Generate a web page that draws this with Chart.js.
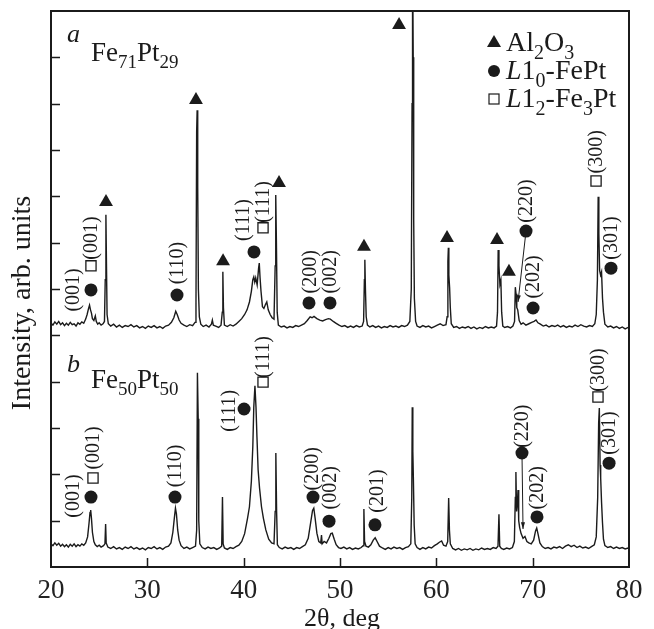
<!DOCTYPE html>
<html>
<head>
<meta charset="utf-8">
<script src="https://cdn.jsdelivr.net/npm/chart.js@4.4.0/dist/chart.umd.min.js"></script>
<style>
html, body { margin: 0; padding: 0; background: #fff; }
canvas { display: block; }
</style>
</head>
<body>
<canvas id="xrdChart" width="654" height="629"></canvas>
<script>
// ===================================
// XRD patterns, Fe71Pt29 (a) and Fe50Pt50 (b)
// ===================================

// 2theta (deg), intensity (arb. units) - pattern a, shifted up
const traceA = [
    [20.0,5.27],[20.2,5.22],[20.4,5.29],[20.6,5.24],[20.8,5.30],[21.0,5.23],[21.2,5.27],[21.4,5.21],[21.6,5.26],[21.8,5.22],
    [22.0,5.28],[22.2,5.23],[22.4,5.25],[22.6,5.20],[22.8,5.27],[23.0,5.24],[23.2,5.29],[23.4,5.26],[23.6,5.35],[23.75,5.45],
    [23.9,5.58],[24.0,5.65],[24.1,5.55],[24.2,5.48],[24.3,5.36],[24.45,5.32],[24.6,5.42],[24.7,5.30],[24.85,5.24],[25.0,5.27],
    [25.2,5.22],[25.4,5.25],[25.55,5.30],[25.63,6.2],[25.7,7.6],[25.76,6.5],[25.82,5.45],[25.95,5.25],[26.2,5.20],[26.5,5.24],
    [26.8,5.18],[27.1,5.22],[27.4,5.17],[27.7,5.21],[28.0,5.19],[28.3,5.23],[28.6,5.18],[28.9,5.21],[29.2,5.16],[29.5,5.19],
    [29.8,5.15],[30.1,5.20],[30.4,5.17],[30.7,5.21],[31.0,5.16],[31.3,5.19],[31.6,5.15],[31.9,5.20],[32.2,5.22],[32.5,5.28],
    [32.75,5.38],[32.95,5.52],[33.1,5.45],[33.3,5.33],[33.5,5.26],[33.8,5.22],[34.1,5.19],[34.4,5.23],[34.7,5.21],[34.95,5.28],
    [35.05,5.7],[35.12,9.4],[35.17,9.86],[35.23,8.2],[35.3,6.0],[35.4,5.4],[35.55,5.24],[35.8,5.19],[36.1,5.22],[36.4,5.18],
    [36.65,5.24],[36.75,5.33],[36.85,5.22],[37.1,5.20],[37.4,5.17],[37.65,5.22],[37.78,5.5],[37.84,6.37],[37.9,5.6],[38.0,5.22],
    [38.3,5.19],[38.6,5.23],[38.9,5.20],[39.2,5.24],[39.5,5.30],[39.8,5.36],[40.1,5.45],[40.35,5.55],[40.6,5.72],[40.8,5.95],
    [40.95,6.20],[41.05,6.26],[41.15,6.15],[41.25,6.24],[41.4,6.09],[41.55,6.45],[41.62,6.56],[41.7,6.25],[41.8,5.95],[41.95,5.62],
    [42.1,5.58],[42.25,5.66],[42.4,5.72],[42.55,5.55],[42.75,5.45],[42.95,5.38],[43.15,5.35],[43.27,6.5],[43.33,8.03],[43.4,7.0],
    [43.48,5.5],[43.6,5.22],[43.9,5.18],[44.2,5.20],[44.5,5.16],[44.8,5.19],[45.1,5.17],[45.4,5.21],[45.7,5.19],[46.0,5.22],
    [46.3,5.25],[46.6,5.32],[46.9,5.40],[47.1,5.38],[47.3,5.41],[47.6,5.36],[47.9,5.33],[48.2,5.31],[48.5,5.34],[48.8,5.36],
    [49.0,5.35],[49.3,5.30],[49.6,5.26],[49.9,5.22],[50.2,5.19],[50.5,5.21],[50.8,5.17],[51.1,5.20],[51.4,5.17],[51.7,5.21],
    [52.0,5.18],[52.3,5.20],[52.45,5.3],[52.53,6.2],[52.58,6.63],[52.64,6.0],[52.72,5.4],[52.85,5.22],[53.1,5.18],[53.4,5.21],
    [53.7,5.17],[54.0,5.20],[54.3,5.16],[54.6,5.19],[54.9,5.17],[55.2,5.21],[55.5,5.18],[55.8,5.20],[56.1,5.17],[56.4,5.21],
    [56.7,5.19],[57.0,5.22],[57.25,5.3],[57.4,6.0],[57.48,10.0],[57.53,13.5],[57.6,11.0],[57.65,7.5],[57.72,5.8],[57.85,5.3],
    [58.0,5.2],[58.3,5.17],[58.6,5.21],[58.9,5.18],[59.2,5.20],[59.5,5.16],[59.8,5.19],[60.1,5.22],[60.4,5.25],[60.7,5.21],
    [61.0,5.23],[61.12,5.4],[61.2,6.6],[61.25,6.89],[61.3,6.3],[61.38,6.02],[61.45,5.6],[61.55,5.25],[61.8,5.17],[62.1,5.19],
    [62.4,5.15],[62.7,5.18],[63.0,5.16],[63.3,5.19],[63.6,5.15],[63.9,5.18],[64.2,5.14],[64.5,5.17],[64.8,5.15],[65.1,5.19],
    [65.4,5.16],[65.7,5.18],[66.0,5.16],[66.25,5.2],[66.35,5.5],[66.42,6.84],[66.5,6.5],[66.6,6.1],[66.7,6.19],[66.78,5.5],
    [66.9,5.2],[67.1,5.17],[67.4,5.19],[67.7,5.16],[67.95,5.20],[68.12,5.3],[68.2,6.04],[68.27,5.9],[68.35,5.6],[68.45,5.55],
    [68.6,5.32],[68.8,5.24],[69.0,5.27],[69.3,5.22],[69.6,5.25],[69.9,5.28],[70.15,5.30],[70.35,5.33],[70.55,5.27],[70.8,5.24],
    [71.1,5.20],[71.4,5.22],[71.7,5.18],[72.0,5.21],[72.3,5.19],[72.6,5.22],[72.9,5.18],[73.2,5.21],[73.5,5.17],[73.8,5.20],
    [74.1,5.18],[74.4,5.22],[74.7,5.19],[75.0,5.23],[75.3,5.20],[75.6,5.18],[75.9,5.21],[76.2,5.19],[76.45,5.25],[76.6,5.45],
    [76.72,6.2],[76.8,7.99],[76.87,7.2],[76.95,6.4],[77.05,6.3],[77.15,6.37],[77.25,5.8],[77.35,5.5],[77.5,5.24],[77.8,5.18],
    [78.1,5.20],[78.4,5.16],[78.7,5.19],[79.0,5.15],[79.3,5.18],[79.6,5.14],[79.9,5.17],[80.0,5.16]
];

// pattern b
const traceB = [
    [20.0,0.50],[20.2,0.46],[20.4,0.52],[20.6,0.47],[20.8,0.51],[21.0,0.45],[21.2,0.49],[21.4,0.44],[21.6,0.48],[21.8,0.43],
    [22.0,0.49],[22.2,0.45],[22.4,0.50],[22.6,0.44],[22.8,0.48],[23.0,0.45],[23.2,0.50],[23.4,0.47],[23.6,0.52],[23.8,0.65],
    [23.95,0.95],[24.05,1.18],[24.12,1.23],[24.2,1.05],[24.3,0.75],[24.45,0.55],[24.6,0.48],[24.8,0.44],[25.0,0.47],[25.2,0.43],
    [25.45,0.46],[25.6,0.50],[25.67,0.93],[25.73,0.52],[25.9,0.43],[26.2,0.40],[26.5,0.44],[26.8,0.39],[27.1,0.42],[27.4,0.38],
    [27.7,0.43],[28.0,0.40],[28.3,0.44],[28.6,0.39],[28.9,0.42],[29.2,0.38],[29.5,0.41],[29.8,0.37],[30.1,0.42],[30.4,0.40],
    [30.7,0.44],[31.0,0.39],[31.3,0.42],[31.6,0.38],[31.9,0.43],[32.2,0.45],[32.45,0.52],[32.65,0.75],[32.8,1.05],[32.92,1.27],
    [33.02,1.15],[33.15,0.80],[33.3,0.58],[33.5,0.46],[33.8,0.40],[34.1,0.43],[34.4,0.39],[34.7,0.42],[35.0,0.45],[35.12,0.8],
    [35.2,4.19],[35.28,3.2],[35.34,1.0],[35.45,0.50],[35.7,0.42],[36.0,0.39],[36.3,0.43],[36.6,0.40],[36.9,0.42],[37.2,0.38],
    [37.5,0.41],[37.72,0.45],[37.8,1.51],[37.87,0.50],[38.0,0.41],[38.3,0.38],[38.6,0.42],[38.9,0.40],[39.2,0.44],[39.5,0.47],
    [39.8,0.55],[40.1,0.72],[40.4,1.05],[40.6,1.30],[40.8,1.85],[40.95,2.60],[41.05,3.45],[41.17,3.91],[41.28,3.45],[41.38,2.80],
    [41.5,2.10],[41.65,1.70],[41.85,1.30],[42.05,1.05],[42.3,0.80],[42.6,0.60],[42.9,0.52],[43.15,0.50],[43.27,1.2],[43.34,2.46],
    [43.42,1.2],[43.5,0.48],[43.7,0.42],[44.0,0.39],[44.3,0.43],[44.6,0.40],[44.9,0.42],[45.2,0.38],[45.5,0.42],[45.8,0.40],
    [46.1,0.44],[46.4,0.48],[46.7,0.62],[46.95,0.95],[47.15,1.22],[47.28,1.27],[47.42,1.05],[47.6,0.73],[47.8,0.55],[48.0,0.52],
    [48.08,0.69],[48.15,0.50],[48.35,0.55],[48.6,0.52],[48.85,0.62],[49.05,0.72],[49.2,0.73],[49.4,0.60],[49.6,0.48],[49.85,0.42],
    [50.1,0.40],[50.4,0.43],[50.7,0.39],[51.0,0.42],[51.3,0.38],[51.6,0.41],[51.9,0.39],[52.2,0.42],[52.4,0.46],[52.48,1.25],
    [52.55,0.55],[52.7,0.45],[52.95,0.43],[53.2,0.48],[53.45,0.58],[53.65,0.63],[53.85,0.55],[54.1,0.45],[54.4,0.41],[54.7,0.38],
    [55.0,0.42],[55.3,0.39],[55.6,0.43],[55.9,0.40],[56.2,0.42],[56.5,0.38],[56.8,0.42],[57.1,0.44],[57.35,0.50],[57.45,1.5],
    [57.5,3.45],[57.56,2.5],[57.62,1.88],[57.7,0.9],[57.8,0.50],[58.0,0.42],[58.3,0.38],[58.6,0.42],[58.9,0.39],[59.2,0.43],
    [59.5,0.41],[59.8,0.46],[60.1,0.50],[60.35,0.54],[60.55,0.56],[60.75,0.47],[61.0,0.45],[61.18,0.55],[61.28,1.49],[61.36,0.8],
    [61.45,0.50],[61.7,0.40],[62.0,0.37],[62.3,0.40],[62.6,0.36],[62.9,0.39],[63.2,0.37],[63.5,0.40],[63.8,0.36],[64.1,0.39],
    [64.4,0.37],[64.7,0.41],[65.0,0.38],[65.3,0.40],[65.6,0.38],[65.9,0.42],[66.2,0.40],[66.4,0.45],[66.5,1.14],[66.58,0.45],
    [66.75,0.40],[67.0,0.38],[67.3,0.41],[67.6,0.39],[67.9,0.42],[68.1,0.55],[68.2,1.5],[68.26,2.05],[68.33,1.2],[68.42,1.4],
    [68.48,1.66],[68.55,1.0],[68.65,0.85],[68.8,0.72],[69.0,0.62],[69.2,0.66],[69.4,0.55],[69.6,0.52],[69.85,0.50],[70.1,0.58],
    [70.3,0.78],[70.42,0.84],[70.55,0.72],[70.75,0.52],[71.0,0.44],[71.3,0.40],[71.6,0.42],[71.9,0.39],[72.2,0.43],[72.5,0.41],
    [72.8,0.44],[73.1,0.40],[73.4,0.45],[73.7,0.48],[74.0,0.44],[74.3,0.47],[74.6,0.42],[74.9,0.45],[75.2,0.41],[75.5,0.43],
    [75.8,0.40],[76.1,0.44],[76.4,0.48],[76.6,0.65],[76.75,1.5],[76.85,3.1],[76.92,3.43],[77.0,2.2],[77.06,1.92],[77.15,1.4],
    [77.25,0.95],[77.35,0.60],[77.5,0.46],[77.8,0.42],[78.1,0.44],[78.4,0.40],[78.7,0.43],[79.0,0.40],[79.3,0.42],[79.6,0.39],
    [79.9,0.41],[80.0,0.40]
];

// Al2O3 substrate reflections (triangles)
const triangleMarks = [
    [25.71,7.88],[35.05,10.08],[37.86,6.60],[43.67,8.29],[56.13,11.70],
    [52.49,6.91],[61.11,7.10],[66.30,7.06],[67.54,6.37]
];

// L1_0-FePt reflections (circles): marker, hkl, label centre
const circleMarks = [
    [24.15,5.98],[33.08,5.87],[41.07,6.80],[46.78,5.70],[48.96,5.70],[69.31,7.25],[70.04,5.59],[78.13,6.45],
    [24.15,1.51],[32.87,1.51],[40.04,3.41],[47.20,1.51],[48.86,0.99],[53.63,0.91],[68.89,2.46],[70.45,1.08],[77.93,2.24]
];
const circleLabels = [
    '(001)','(110)','(111)','(200)','(002)','(220)','(202)','(301)',
    '(001)','(110)','(111)','(200)','(002)','(201)','(220)','(202)','(301)'
];
const circleLabelAt = [
    [22.28,5.98],[33.08,6.56],[39.93,7.49],[46.89,6.37],[48.96,6.37],[69.31,7.90],[70.04,6.26],[78.13,7.10],
    [22.28,1.53],[32.87,2.18],[38.48,3.37],[47.09,2.12],[48.96,1.71],[53.84,1.64],[68.89,3.04],[70.45,1.71],[77.93,2.89]
];

// L1_2-Fe3Pt reflections (open squares)
const squareMarks = [[24.15,6.50],[42.01,7.32],[76.58,8.33],[24.36,1.92],[42.01,3.99],[76.78,3.67]];
const squareLabels = ['(001)','(111)','(300)','(001)','(111)','(300)'];
const squareLabelAt = [[24.15,7.10],[42.01,7.88],[76.58,8.96],[24.36,2.57],[42.01,4.53],[76.78,4.25]];

// (220) pointers: from marker to peak
const pointers220 = [[69.31,7.25,68.48,5.72],[68.89,2.46,69.0,0.82]];

const xTickValues = [20, 30, 40, 50, 60, 70, 80];
const yTickValues = [1, 2, 3, 4, 5, 6, 7, 8, 9, 10, 11];

const SERIF = '"Liberation Serif", "DejaVu Serif", "Times New Roman", serif';
const INK = '#1b1b1b';

const toXY = arr => arr.map(p => ({ x: p[0], y: p[1] }));

// text with subscripts / italics, parts = [[text, 'sub'|'it'|''], ...]
function drawRich(ctx, parts, x, y, size) {
    parts.forEach(([t, style]) => {
        const sub = style === 'sub';
        const s = sub ? Math.round(size * 0.72) : size;
        ctx.font = (style === 'it' ? 'italic ' : '') + s + 'px ' + SERIF;
        ctx.fillText(t, x, y + (sub ? size * 0.27 : 0));
        x += ctx.measureText(t).width;
    });
}

const decorPlugin = {
    id: 'xrdDecor',
    afterDraw(chart) {
        const { ctx, chartArea: area, scales } = chart;
        const xs = scales.x, ys = scales.y;
        ctx.save();
        ctx.strokeStyle = INK;
        ctx.fillStyle = INK;

        // frame
        ctx.lineWidth = 2;
        ctx.strokeRect(area.left, area.top, area.right - area.left, area.bottom - area.top);

        // inward tick marks
        ctx.lineWidth = 1.5;
        ctx.beginPath();
        yTickValues.forEach(v => {
            const py = Math.round(ys.getPixelForValue(v)) + 0.5;
            ctx.moveTo(area.left, py);
            ctx.lineTo(area.left + 9, py);
        });
        xTickValues.slice(1, -1).forEach(v => {
            const px = Math.round(xs.getPixelForValue(v)) + 0.5;
            ctx.moveTo(px, area.bottom);
            ctx.lineTo(px, area.bottom - 9);
        });
        ctx.stroke();

        // (220) pointers
        ctx.lineWidth = 1;
        pointers220.forEach(([x0, y0, x1, y1]) => {
            const ax = xs.getPixelForValue(x0), ay = ys.getPixelForValue(y0);
            const bx = xs.getPixelForValue(x1), by = ys.getPixelForValue(y1);
            ctx.beginPath();
            ctx.moveTo(ax, ay);
            ctx.lineTo(bx, by);
            ctx.stroke();
            const ang = Math.atan2(by - ay, bx - ax);
            ctx.beginPath();
            ctx.moveTo(bx, by);
            ctx.lineTo(bx - 7 * Math.cos(ang - 0.3), by - 7 * Math.sin(ang - 0.3));
            ctx.lineTo(bx - 7 * Math.cos(ang + 0.3), by - 7 * Math.sin(ang + 0.3));
            ctx.closePath();
            ctx.fill();
        });

        // rotated hkl labels
        ctx.font = '20px ' + SERIF;
        ctx.textAlign = 'center';
        ctx.textBaseline = 'middle';
        const drawLabel = (text, at) => {
            ctx.save();
            ctx.translate(xs.getPixelForValue(at[0]), ys.getPixelForValue(at[1]));
            ctx.rotate(-Math.PI / 2);
            ctx.fillText(text, 0, 1);
            ctx.restore();
        };
        circleLabels.forEach((t, i) => drawLabel(t, circleLabelAt[i]));
        squareLabels.forEach((t, i) => drawLabel(t, squareLabelAt[i]));

        ctx.textAlign = 'left';
        ctx.textBaseline = 'alphabetic';

        // panel captions
        drawRich(ctx, [['a', 'it']], 67, 42, 26);
        drawRich(ctx, [['Fe', ''], ['71', 'sub'], ['Pt', ''], ['29', 'sub']], 91, 61, 27);
        drawRich(ctx, [['b', 'it']], 67, 372, 26);
        drawRich(ctx, [['Fe', ''], ['50', 'sub'], ['Pt', ''], ['50', 'sub']], 91, 388, 27);

        // legend
        const lx = 494, rows = [42, 71, 99];
        ctx.beginPath();
        ctx.moveTo(lx, rows[0] - 7);
        ctx.lineTo(lx + 7, rows[0] + 5);
        ctx.lineTo(lx - 7, rows[0] + 5);
        ctx.closePath();
        ctx.fill();
        ctx.beginPath();
        ctx.arc(lx, rows[1], 6, 0, Math.PI * 2);
        ctx.fill();
        ctx.lineWidth = 1.2;
        ctx.strokeRect(lx - 5, rows[2] - 5, 10, 10);
        drawRich(ctx, [['Al', ''], ['2', 'sub'], ['O', ''], ['3', 'sub']], 506, rows[0] + 9, 28);
        drawRich(ctx, [['L', 'it'], ['1', ''], ['0', 'sub'], ['-FePt', '']], 506, rows[1] + 8, 28);
        drawRich(ctx, [['L', 'it'], ['1', ''], ['2', 'sub'], ['-Fe', ''], ['3', 'sub'], ['Pt', '']], 506, rows[2] + 8, 28);

        // axis titles
        ctx.font = '26px ' + SERIF;
        ctx.textAlign = 'center';
        ctx.fillText('2\u03b8, deg', (area.left + area.right) / 2 + 2, 626);
        ctx.save();
        ctx.translate(30, (area.top + area.bottom) / 2 + 14);
        ctx.rotate(-Math.PI / 2);
        ctx.font = '28px ' + SERIF;
        ctx.fillText('Intensity, arb. units', 0, 0);
        ctx.restore();

        ctx.restore();
    }
};

const markerBase = { type: 'scatter', borderColor: INK, backgroundColor: INK, pointBorderWidth: 0, showLine: false };

new Chart(document.getElementById('xrdChart'), {
    type: 'line',
    data: {
        datasets: [
            { ...markerBase, data: toXY(triangleMarks), pointStyle: 'triangle', pointRadius: 8, order: 1 },
            { ...markerBase, data: toXY(circleMarks), pointStyle: 'circle', pointRadius: 6.5, order: 1 },
            { ...markerBase, data: toXY(squareMarks), pointStyle: 'rect', pointRadius: 7.2,
              backgroundColor: '#fff', pointBorderWidth: 1.3, order: 1 },
            { data: toXY(traceA), borderColor: INK, borderWidth: 1.4, pointRadius: 0, tension: 0, order: 2 },
            { data: toXY(traceB), borderColor: INK, borderWidth: 1.4, pointRadius: 0, tension: 0, order: 2 }
        ]
    },
    options: {
        responsive: false,
        animation: false,
        layout: { padding: { top: 11, right: 25, left: 0, bottom: 0 } },
        plugins: { legend: { display: false }, tooltip: { enabled: false } },
        scales: {
            x: {
                type: 'linear',
                min: 20,
                max: 80,
                afterFit: s => { s.height = 62; },
                afterBuildTicks: s => { s.ticks = xTickValues.map(v => ({ value: v })); },
                grid: { display: false, drawTicks: false },
                border: { display: false },
                ticks: {
                    padding: 8,
                    maxRotation: 0,
                    autoSkip: false,
                    color: '#222',
                    font: { family: SERIF, size: 27 }
                }
            },
            y: {
                type: 'linear',
                min: 0,
                max: 12,
                afterFit: s => { s.width = 51; },
                grid: { display: false, drawTicks: false },
                border: { display: false },
                ticks: { display: false }
            }
        }
    },
    plugins: [decorPlugin]
});
</script>
</body>
</html>
